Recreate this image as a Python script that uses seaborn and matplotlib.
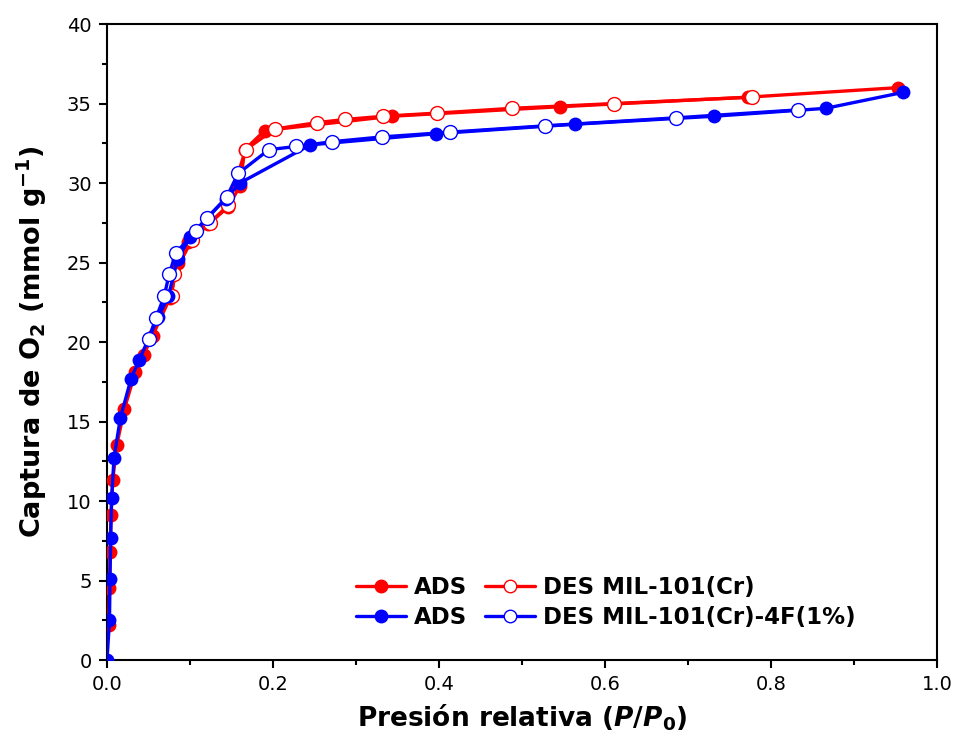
import numpy as np
import pandas as pd
import matplotlib
matplotlib.use("Agg")
import matplotlib.pyplot as plt
from matplotlib.ticker import MultipleLocator
from matplotlib.lines import Line2D
import seaborn as sns

# ---------------- data ----------------
red_ads_x = [0.002, 0.003, 0.0036, 0.0048, 0.0069, 0.0117, 0.021, 0.034, 0.044, 0.055,
             0.076, 0.086, 0.098, 0.122, 0.146, 0.160, 0.166, 0.190, 0.343, 0.546, 0.772, 0.953]
red_ads_y = [2.2, 4.5, 6.8, 9.1, 11.3, 13.5, 15.8, 18.1, 19.2, 20.4,
             22.8, 25.0, 26.3, 27.4, 28.5, 29.8, 32.1, 33.3, 34.2, 34.8, 35.4, 36.0]

red_des_x = [0.777, 0.611, 0.488, 0.398, 0.333, 0.287, 0.253, 0.202, 0.167, 0.146, 0.124, 0.102, 0.081, 0.078]
red_des_y = [35.4, 35.0, 34.7, 34.4, 34.2, 34.0, 33.8, 33.4, 32.1, 28.6, 27.5, 26.4, 24.3, 22.9]

blue_ads_x = [0.0, 0.003, 0.0036, 0.0044, 0.0056, 0.0084, 0.016, 0.029, 0.039, 0.050, 0.062,
              0.074, 0.085, 0.100, 0.120, 0.143, 0.160, 0.245, 0.396, 0.564, 0.731, 0.866, 0.959]
blue_ads_y = [0.0, 2.5, 5.1, 7.7, 10.2, 12.7, 15.2, 17.7, 18.9, 20.2, 21.6,
              22.9, 25.2, 26.6, 27.8, 29.0, 30.0, 32.4, 33.1, 33.7, 34.2, 34.7, 35.7]

blue_des_x = [0.832, 0.685, 0.528, 0.413, 0.331, 0.271, 0.228, 0.195, 0.158, 0.144, 0.121,
              0.107, 0.083, 0.075, 0.069, 0.059, 0.050]
blue_des_y = [34.6, 34.1, 33.6, 33.2, 32.9, 32.6, 32.3, 32.1, 30.6, 29.1, 27.8,
              27.0, 25.6, 24.3, 22.9, 21.5, 20.2]

labels = ["ADS", "DES MIL-101(Cr)", "ADS", "DES MIL-101(Cr)-4F(1%)"]
RED = "#ff0000"
BLUE = "#0000ff"

# ---------------- figure ----------------
sns.set_style("white")
plt.rcParams["font.family"] = ["DejaVu Sans"]
plt.rcParams["mathtext.fontset"] = "dejavusans"
for k in ["text.color", "axes.labelcolor", "xtick.color", "ytick.color"]:
    plt.rcParams[k] = "black"

fig = plt.figure(figsize=(9.58, 7.49), dpi=100)
ax = fig.add_axes([0.1117, 0.1188, 0.8664, 0.8491])

ms = 10
lw = 2.4

def draw(x, y, color, filled, z):
    df = pd.DataFrame({"x": x, "y": y})
    sns.lineplot(data=df, x="x", y="y", ax=ax, sort=False, estimator=None,
                 color=color, lw=lw, marker="o", markersize=ms,
                 markerfacecolor=color if filled else "white",
                 markeredgecolor=color, markeredgewidth=1.0 if not filled else 0,
                 zorder=z)

draw(red_ads_x, red_ads_y, RED, True, 3)
draw(red_des_x, red_des_y, RED, False, 4)
draw(blue_ads_x, blue_ads_y, BLUE, True, 5)
draw(blue_des_x, blue_des_y, BLUE, False, 6)

ax.set_xlim(0, 1.0)
ax.set_ylim(0, 40)
ax.xaxis.set_major_locator(MultipleLocator(0.2))
ax.xaxis.set_minor_locator(MultipleLocator(0.1))
ax.yaxis.set_major_locator(MultipleLocator(5))
ax.yaxis.set_minor_locator(MultipleLocator(2.5))
ax.xaxis.set_major_formatter(matplotlib.ticker.FormatStrFormatter("%.1f"))
ax.tick_params(which="major", direction="out", length=6, width=1.5, color="black",
               bottom=True, left=True, top=False, right=False, labelsize=14, pad=5,
               labelcolor="black")
ax.tick_params(which="minor", direction="out", length=3.5, width=1.5, color="black",
               bottom=True, left=True, top=False, right=False)
for sp in ax.spines.values():
    sp.set_visible(True)
    sp.set_color("black")
    sp.set_linewidth(1.5)

ax.set_xlabel(r"Presión relativa ($\mathbfit{P}$/$\mathbfit{P}_\mathbf{0}$)",
              fontsize=19, fontweight="bold", labelpad=6, color="black")
ax.set_ylabel(r"Captura de O$_\mathbf{2}$ (mmol g$^\mathbf{-1}$)",
              fontsize=19.5, fontweight="bold", labelpad=13, color="black")

def h(color, filled):
    return Line2D([], [], color=color, lw=lw, marker="o", markersize=9,
                  markerfacecolor=color if filled else "white",
                  markeredgecolor=color, markeredgewidth=1.0)

handles = [h(RED, True), h(BLUE, True), h(RED, False), h(BLUE, False)]
labs = [labels[0], labels[2], labels[1], labels[3]]
leg = ax.legend(handles, labs, loc="upper left", bbox_to_anchor=(0.275, 0.165),
                ncol=2, frameon=False, handlelength=2.2, handletextpad=0.35,
                columnspacing=0.75, labelspacing=0.3,
                prop={"weight": "bold", "size": 16.5})

fig.savefig("out.png", dpi=100)
